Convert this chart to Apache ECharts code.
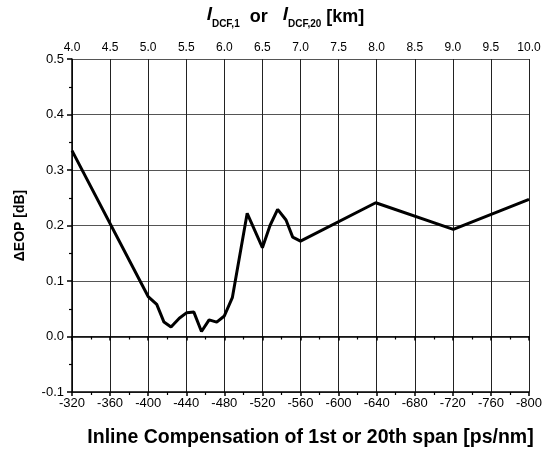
<!DOCTYPE html>
<html>
<head>
<meta charset="utf-8">
<script src="https://cdn.jsdelivr.net/npm/echarts@6/dist/echarts.min.js"></script>
<style>html,body{margin:0;padding:0;background:#fff}#c{width:553px;height:453px}</style>
</head>
<body>
<div id="c"></div>
<script>
// Inline compensation [ps/nm]
const compensation = [-320, -400, -409, -416.6, -424, -432.7, -440.5, -448, -456, -464, -472, -480, -488.4, -504, -520, -528, -536, -544.8, -551.8, -560, -639, -720.5, -800];
// ΔEOP [dB]
const deltaEOP = [0.335, 0.072, 0.058, 0.026, 0.017, 0.033, 0.043, 0.044, 0.009, 0.030, 0.026, 0.037, 0.070, 0.222, 0.160, 0.200, 0.229, 0.210, 0.179, 0.172, 0.241, 0.193, 0.247];

const FONT = 'Liberation Sans, Arial, sans-serif';
const chart = echarts.init(document.getElementById('c'));
chart.setOption({
  backgroundColor: '#fff',
  animation: false,
  grid: { left: 72, right: 24, top: 57, bottom: 59 },
  xAxis: [
    {
      type: 'value', min: -800, max: -320, interval: 40, inverse: true,
      name: 'Inline Compensation of 1st or 20th span [ps/nm]',
      nameLocation: 'middle', nameGap: 36,
      nameTextStyle: { fontFamily: FONT, fontWeight: 'bold', fontSize: 19.5, color: '#000', padding: [0, 0, 0, 20] },
      axisLine: { show: true, onZero: false, lineStyle: { color: '#000', width: 1.5 } },
      axisTick: { show: true, inside: false, length: 4, lineStyle: { color: '#000', width: 1.5 } },
      minorTick: { show: true, splitNumber: 2, length: 3, lineStyle: { color: '#000', width: 1.2 } },
      axisLabel: { fontFamily: FONT, fontSize: 13, color: '#000', margin: 5, formatter: v => String(v) },
      splitLine: { show: true, lineStyle: { color: '#222', type: 'solid', width: 1 } }
    },
    {
      type: 'value', min: 4, max: 10, interval: 0.5, position: 'top',
      name: '{i|l}{sub|DCF,1}{b|  or   }{i|l}{sub|DCF,20}{b| [km]}',
      nameLocation: 'middle', nameGap: 30,
      nameTextStyle: {
        fontFamily: FONT, color: '#000', padding: [0, 30, 0, 0],
        rich: {
          i: { fontFamily: FONT, fontStyle: 'italic', fontWeight: 'bold', fontSize: 19, color: '#000', lineHeight: 24, verticalAlign: 'top' },
          sub: { fontFamily: FONT, fontWeight: 'bold', fontSize: 10, color: '#000', lineHeight: 24, verticalAlign: 'bottom', padding: [10, 0, 0, 0] },
          b: { fontFamily: FONT, fontWeight: 'bold', fontSize: 18, color: '#000', lineHeight: 24 }
        }
      },
      axisLine: { show: true, lineStyle: { color: '#000', width: 1.5 } },
      axisTick: { show: true, inside: true, length: 4, lineStyle: { color: '#000', width: 1.5 } },
      minorTick: { show: true, splitNumber: 2, length: 3, lineStyle: { color: '#000', width: 1.2 } },
      axisLabel: { fontFamily: FONT, fontSize: 12, color: '#000', margin: 5, formatter: v => v.toFixed(1) },
      splitLine: { show: false }
    }
  ],
  yAxis: [
    {
      type: 'value', min: -0.1, max: 0.5, interval: 0.1,
      name: 'ΔEOP [dB]', nameLocation: 'middle', nameGap: 45,
      nameTextStyle: { fontFamily: FONT, fontWeight: 'bold', fontSize: 14, color: '#000' },
      axisLine: { show: true, onZero: false, lineStyle: { color: '#000', width: 1.5 } },
      axisTick: { show: true, inside: false, length: 5, lineStyle: { color: '#000', width: 1.5 } },
      minorTick: { show: true, splitNumber: 2, length: 3, lineStyle: { color: '#000', width: 1.2 } },
      axisLabel: { fontFamily: FONT, fontSize: 13, color: '#000', margin: 8, formatter: v => v.toFixed(1) },
      splitLine: { show: true, lineStyle: { color: '#555', type: 'solid', width: 1.2 } }
    }
  ],
  series: [
    {
      type: 'line', xAxisIndex: 0, yAxisIndex: 0,
      data: compensation.map((x, i) => [x, deltaEOP[i]]),
      showSymbol: false, symbol: 'none',
      lineStyle: { color: '#000', width: 3 },
      itemStyle: { color: '#000' }
    }
  ]
});
</script>
</body>
</html>
